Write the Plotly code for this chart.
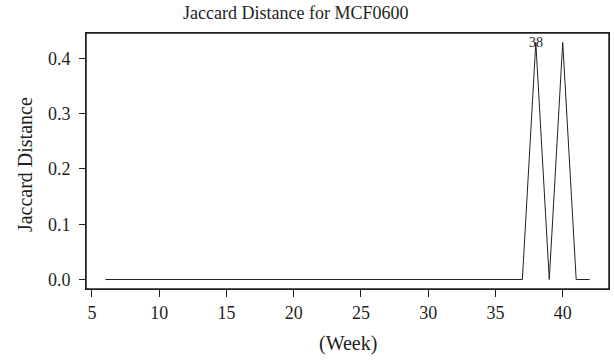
import plotly.graph_objects as go

weeks = list(range(6, 43))
# weeks 6..42: all zero except week 38 and 40
peak_weeks = [38, 40]
peak_values = [0.4286, 0.4286]
jaccard = [0.0 for _ in weeks]
for w, v in zip(peak_weeks, peak_values):
    jaccard[weeks.index(w)] = v

x_ticks = [5, 10, 15, 20, 25, 30, 35, 40]
y_ticks = [0.0, 0.1, 0.2, 0.3, 0.4]
y_tick_labels = ["0.0", "0.1", "0.2", "0.3", "0.4"]
label_week = 38
label_value = 0.4286

title_text = "Jaccard Distance for MCF0600"
x_title = "(Week)"
y_title = "Jaccard Distance"

FONT = "Liberation Serif"
INK = "#231f20"

fig = go.Figure()
fig.add_trace(go.Scatter(x=weeks, y=jaccard, mode="lines",
                         line=dict(color=INK, width=1), showlegend=False,
                         hoverinfo="skip"))

fig.add_annotation(x=label_week, y=label_value, text=str(label_week),
                   showarrow=False, xanchor="center", yanchor="middle",
                   font=dict(family=FONT, size=14, color=INK))

fig.add_annotation(x=0.4015, y=1.078, xref="paper", yref="paper", text=title_text,
                   showarrow=False, xanchor="center", yanchor="middle",
                   font=dict(family=FONT, size=18, color=INK))
fig.add_annotation(x=-0.1166, y=0.484, xref="paper", yref="paper", text=y_title,
                   showarrow=False, xanchor="center", yanchor="middle", textangle=-90,
                   font=dict(family=FONT, size=20, color=INK))
fig.add_annotation(x=0.501, y=-0.211, xref="paper", yref="paper", text=x_title,
                   showarrow=False, xanchor="center", yanchor="middle",
                   font=dict(family=FONT, size=20, color=INK))

# plot frame
fig.add_shape(type="rect", xref="paper", yref="paper", x0=0, x1=1, y0=0, y1=1,
              line=dict(color=INK, width=1.5), fillcolor="rgba(0,0,0,0)", layer="above")

fig.update_xaxes(range=[4.56, 43.44], tickvals=x_ticks, ticks="outside", ticklen=7,
                 tickcolor=INK, showline=True, mirror=True, linecolor=INK, linewidth=1,
                 showgrid=False, zeroline=False,
                 tickfont=dict(family=FONT, size=18, color=INK))
fig.update_yaxes(range=[-0.01714, 0.44571], tickvals=y_ticks, ticktext=y_tick_labels,
                 ticks="outside", ticklen=6, tickcolor=INK, showline=True, mirror=True,
                 linecolor=INK, linewidth=1, showgrid=False, zeroline=False,
                 ticklabelstandoff=5,
                 tickfont=dict(family=FONT, size=18, color=INK))

fig.update_layout(width=614, height=362, margin=dict(l=86, r=5, t=33, b=73),
                  paper_bgcolor="white", plot_bgcolor="white")

fig.write_html("out.html", config={"displayModeBar": False},
               post_script="document.body.style.margin='0';")
